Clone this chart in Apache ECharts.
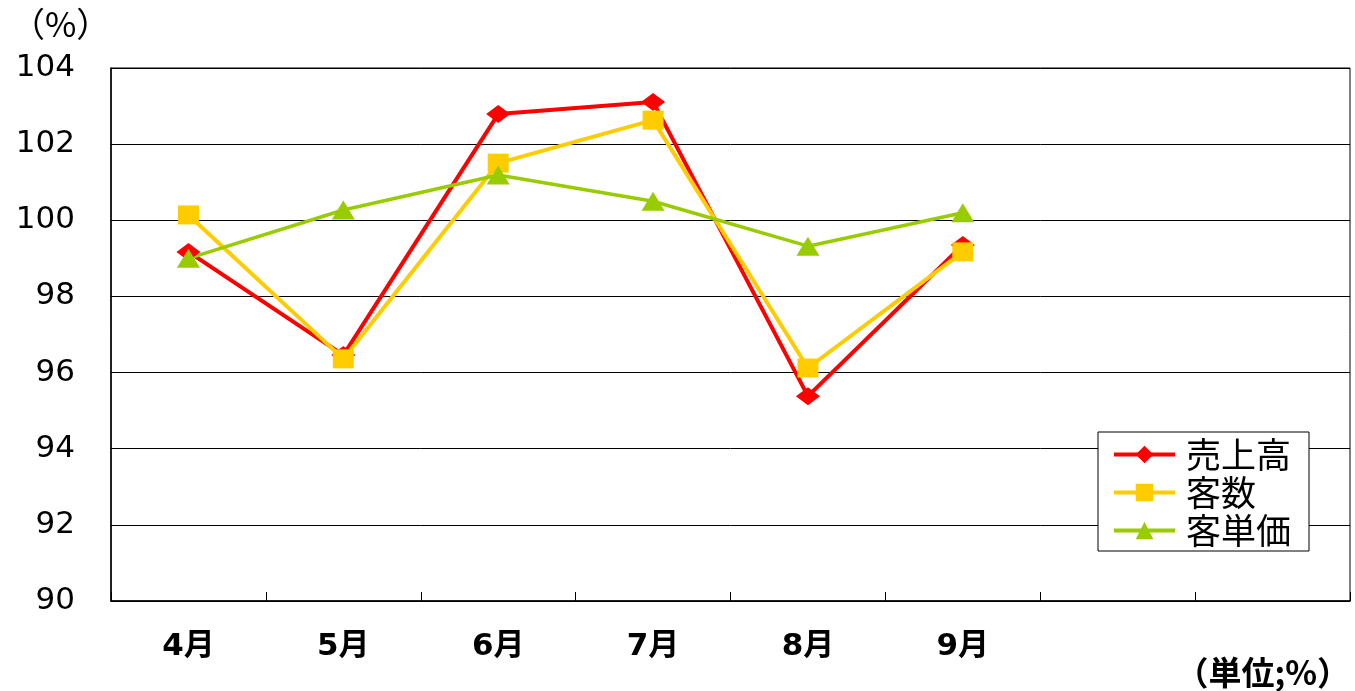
<!DOCTYPE html>
<html><head><meta charset="utf-8">
<script src="https://cdn.jsdelivr.net/npm/echarts@6/dist/echarts.min.js"></script>
<style>html,body{margin:0;padding:0;background:#fff}#c{width:1355px;height:691px}</style>
</head><body><div id="c"></div>
<script>
const categories = ['4月','5月','6月','7月','8月','9月','',''];
const sales = [99.17, 96.46, 102.79, 103.11, 95.38, 99.35];
const customers = [100.14, 96.36, 101.5, 102.63, 96.12, 99.17];
const unitPrice = [99.0, 100.27, 101.19, 100.5, 99.32, 100.2];
const seriesNames = ['売上高','客数','客単価'];
const yTicks = {min: 90, max: 104, interval: 2};

const FONT = '"DejaVu Sans", "Noto Sans CJK JP", sans-serif';
const CJK = '"Noto Sans CJK JP", sans-serif';
const chart = echarts.init(document.getElementById('c'));
chart.setOption({
  animation: false,
  backgroundColor: '#fff',
  textStyle: {fontFamily: FONT},
  title: [
    {text: '（%）', left: 6, top: 2, textStyle: {fontSize: 34, fontWeight: 'normal', color: '#000', fontFamily: CJK}},
    {text: '（単位;%）', right: 0, bottom: -3, textStyle: {fontSize: 33, fontWeight: 'bold', color: '#000', fontFamily: CJK}}
  ],
  grid: {left: 111, right: 5, top: 68, bottom: 90, show: true, borderColor: '#000', borderWidth: 1},
  legend: {
    orient: 'vertical', left: 1098, top: 432,
    backgroundColor: '#fff', borderColor: '#000', borderWidth: 1,
    padding: [5, 18, 3, 14], itemGap: 3,
    itemWidth: 61, itemHeight: 22,
    lineStyle: {width: 4},
    textStyle: {fontSize: 35, color: '#000', fontFamily: CJK, padding: [0, 0, 0, 6], lineHeight: 34},
    data: seriesNames
  },
  xAxis: {
    type: 'category', data: categories, boundaryGap: true,
    axisLine: {lineStyle: {color: '#000', width: 1.5}},
    axisTick: {show: true, inside: true, length: 9, interval: 0, lineStyle: {color: '#000'}},
    axisLabel: {fontSize: 31, fontWeight: 'bold', color: '#000', margin: 30, fontFamily: FONT, interval: 0},
    splitLine: {show: false}
  },
  yAxis: {
    type: 'value', min: yTicks.min, max: yTicks.max, interval: yTicks.interval,
    axisLine: {show: true, lineStyle: {color: '#000', width: 1.5}},
    axisTick: {show: true, inside: true, length: 12, lineStyle: {color: '#000'}},
    axisLabel: {fontSize: 31, color: '#000', margin: 36, fontFamily: '"DejaVu Sans", sans-serif'},
    splitLine: {show: true, lineStyle: {color: '#000', width: 1}}
  },
  series: [
    {name: seriesNames[0], type: 'line', data: sales, symbol: 'diamond', symbolSize: [24, 18],
     itemStyle: {color: '#FF0000'}, lineStyle: {color: '#FF0000', width: 4}},
    {name: seriesNames[1], type: 'line', data: customers, symbol: 'rect', symbolSize: [21, 19],
     itemStyle: {color: '#FFCC00'}, lineStyle: {color: '#FFCC00', width: 4}},
    {name: seriesNames[2], type: 'line', data: unitPrice, symbol: 'triangle', symbolSize: [23, 19],
     itemStyle: {color: '#99CC00'}, lineStyle: {color: '#99CC00', width: 3.5}}
  ]
});
</script></body></html>
